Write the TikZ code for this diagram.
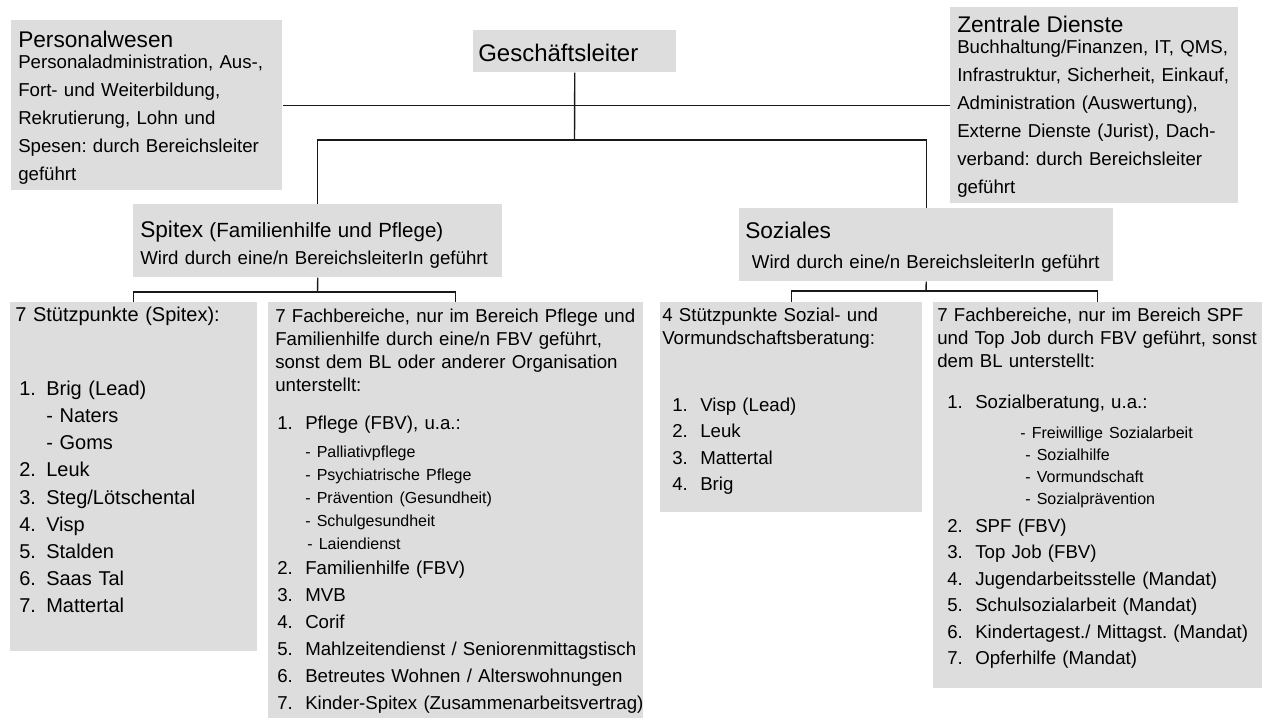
\documentclass[tikz,border=0pt]{standalone}
\usepackage{fontspec}
\setmainfont{Liberation Sans}
\usepackage{tikz}
\usetikzlibrary{positioning, calc}
\definecolor{boxgray}{RGB}{221, 221, 221}
\definecolor{linegray}{RGB}{25, 25, 25}
\frenchspacing
\hyphenpenalty=10000
\exhyphenpenalty=10000
\newlength{\unitpx}\setlength{\unitpx}{0.75pt}
\newlength{\nrbox}\setlength{\nrbox}{28\unitpx}
\newcommand{\orgnr}[1]{\makebox[\nrbox][l]{#1}}
\newcommand{\headfont}{\fontsize{17}{20}\selectfont}
\newcommand{\subfont}{\fontsize{12}{14}\selectfont}
\tikzset{
  orgbox/.style={
    rectangle, fill=boxgray, draw=none,
    anchor=north west, align=left,
    inner ysep=0pt, inner xsep=#1
  },
  orgbox/.default=7\unitpx,
  orglink/.style={draw=linegray, line width=1.05pt},
}

\begin{document}
\begin{tikzpicture}[x=0.75pt, y=-0.75pt]
\useasboundingbox (0,0) rectangle (1266,718);

% ── Top level ─────────────────────────────────────────────
\node[orgbox, text width=257\unitpx, text height=27.5\unitpx, text depth=142.5\unitpx,
      font=\fontsize{14}{21}\selectfont] (pw) at (11,20) {%
  {\headfont Personalwesen}\\[-5.25pt]
  Personaladministration, Aus-,\\
  Fort- und Weiterbildung,\\
  Rekrutierung, Lohn und\\
  Spesen: durch Bereichsleiter\\
  geführt};
\node[orgbox=5\unitpx, text width=193\unitpx, text height=31\unitpx, text depth=11\unitpx,
      font=\fontsize{18}{21}\selectfont] (gl) at (473,30) {Geschäftsleiter};
\node[orgbox, text width=274\unitpx, text height=25.5\unitpx, text depth=170.5\unitpx,
      font=\fontsize{14}{21}\selectfont] (zd) at (950,7) {%
  {\headfont Zentrale Dienste}\\[-5.25pt]
  Buchhaltung/Finanzen, IT, QMS,\\
  Infrastruktur, Sicherheit, Einkauf,\\
  Administration (Auswertung),\\
  Externe Dienste (Jurist), Dach-\\
  verband: durch Bereichsleiter\\
  geführt};

% ── Bereiche ──────────────────────────────────────────────
\node[orgbox, text width=355\unitpx, text height=33.5\unitpx, text depth=39.5\unitpx,
      font=\fontsize{14}{19.9}\selectfont] (spx) at (133,204) {%
  {\headfont Spitex} {\fontsize{15.4}{18}\selectfont (Familienhilfe und Pflege)}\\
  Wird durch eine/n BereichsleiterIn geführt};
\node[orgbox=6\unitpx, text width=362\unitpx, text height=30\unitpx, text depth=43\unitpx,
      font=\fontsize{14}{22.5}\selectfont] (soz) at (739,208) {%
  {\headfont Soziales}\\
  \hspace*{5pt}Wird durch eine/n BereichsleiterIn geführt};

% ── Spitex: Stützpunkte und Fachbereiche ──────────────────
\node[orgbox=5\unitpx, text width=237\unitpx, text height=19\unitpx, text depth=330\unitpx,
      font=\fontsize{15}{20.4}\selectfont] (stp) at (10,302) {%
  \setlength{\nrbox}{27\unitpx}%
  7 Stützpunkte (Spitex):\\[35.1pt]
  \hspace*{4\unitpx}\orgnr{1.}Brig (Lead)\\
  \hspace*{31\unitpx}- Naters\\
  \hspace*{31\unitpx}- Goms\\
  \hspace*{4\unitpx}\orgnr{2.}Leuk\\
  \hspace*{4\unitpx}\orgnr{3.}Steg/Lötschental\\
  \hspace*{4\unitpx}\orgnr{4.}Visp\\
  \hspace*{4\unitpx}\orgnr{5.}Stalden\\
  \hspace*{4\unitpx}\orgnr{6.}Saas Tal\\
  \hspace*{4\unitpx}\orgnr{7.}Mattertal};
\node[orgbox, text width=361\unitpx, text height=20\unitpx, text depth=396\unitpx,
      font=\fontsize{14}{17.25}\selectfont] (fach) at (268,302) {%
  7 Fachbereiche, nur im Bereich Pflege und\\
  Familienhilfe durch eine/n FBV geführt,\\
  sonst dem BL oder anderer Organisation\\
  unterstellt:\\[11.25pt]
  \hspace*{2\unitpx}\orgnr{1.}Pflege (FBV), u.a.:\\[3.75pt]
  {\subfont\hspace*{30\unitpx}- Palliativpflege}\\
  {\subfont\hspace*{30\unitpx}- Psychiatrische Pflege}\\
  {\subfont\hspace*{30\unitpx}- Prävention (Gesundheit)}\\
  {\subfont\hspace*{30\unitpx}- Schulgesundheit}\\
  {\subfont\hspace*{32\unitpx}- Laiendienst}\\[1.5pt]
  \hspace*{2\unitpx}\orgnr{2.}Familienhilfe (FBV)\\[3pt]
  \hspace*{2\unitpx}\orgnr{3.}MVB\\[3pt]
  \hspace*{2\unitpx}\orgnr{4.}Corif\\[3pt]
  \hspace*{2\unitpx}\orgnr{5.}\mbox{Mahlzeitendienst / Seniorenmittagstisch}\\[3pt]
  \hspace*{2\unitpx}\orgnr{6.}\mbox{Betreutes Wohnen / Alterswohnungen}\\[3pt]
  \hspace*{2\unitpx}\orgnr{7.}\mbox{Kinder-Spitex (Zusammenarbeitsvertrag)}};

% ── Soziales: Stützpunkte und Fachbereiche ────────────────
\node[orgbox=2\unitpx, text width=258\unitpx, text height=19\unitpx, text depth=191\unitpx,
      font=\fontsize{14}{17.25}\selectfont] (sstp) at (660,302) {%
  4 Stützpunkte Sozial- und\\
  Vormundschaftsberatung:\\[33pt]
  \hspace*{10\unitpx}\orgnr{1.}Visp (Lead)\\[2.625pt]
  \hspace*{10\unitpx}\orgnr{2.}Leuk\\[2.625pt]
  \hspace*{10\unitpx}\orgnr{3.}Mattertal\\[2.625pt]
  \hspace*{10\unitpx}\orgnr{4.}Brig};
\node[orgbox=4\unitpx, text width=321\unitpx, text height=19\unitpx, text depth=367\unitpx,
      font=\fontsize{14}{17.25}\selectfont] (sfach) at (933,302) {%
  7 Fachbereiche, nur im Bereich SPF\\
  \mbox{und Top Job durch FBV geführt, sonst}\\
  dem BL unterstellt:\\[13.5pt]
  \hspace*{10\unitpx}\orgnr{1.}Sozialberatung, u.a.:\\[5.25pt]
  {\subfont\hspace*{83\unitpx}- Freiwillige Sozialarbeit}\\[-0.75pt]
  {\subfont\hspace*{88\unitpx}- Sozialhilfe}\\[-0.75pt]
  {\subfont\hspace*{88\unitpx}- Vormundschaft}\\[-0.75pt]
  {\subfont\hspace*{88\unitpx}- Sozialprävention}\\[3.75pt]
  \hspace*{10\unitpx}\orgnr{2.}SPF (FBV)\\[2.625pt]
  \hspace*{10\unitpx}\orgnr{3.}Top Job (FBV)\\[2.625pt]
  \hspace*{10\unitpx}\orgnr{4.}Jugendarbeitsstelle (Mandat)\\[2.625pt]
  \hspace*{10\unitpx}\orgnr{5.}Schulsozialarbeit (Mandat)\\[2.625pt]
  \hspace*{10\unitpx}\orgnr{6.}\mbox{Kindertagest./ Mittagst. (Mandat)}\\[2.625pt]
  \hspace*{10\unitpx}\orgnr{7.}Opferhilfe (Mandat)};

% ── Connectors: top level ─────────────────────────────────
\coordinate (topbus) at (574.5,140);
\draw[orglink] (pw.east) -- (zd.west);
\draw[orglink] (gl.south) -- (topbus);
\draw[orglink] (spx.north) |- (topbus) -| (soz.north);

% ── Connectors: Spitex ────────────────────────────────────
\coordinate (spxbus) at (317.5,292);
\draw[orglink] (spx.south) -- (spxbus);
\draw[orglink] (stp.north) |- (spxbus) -| (fach.north);

% ── Connectors: Soziales ──────────────────────────────────
\coordinate (sozbus) at (926,291);
\draw[orglink] (soz.south) -- (sozbus);
\draw[orglink] (sstp.north) |- (sozbus) -| (sfach.north);

\end{tikzpicture}
\end{document}
